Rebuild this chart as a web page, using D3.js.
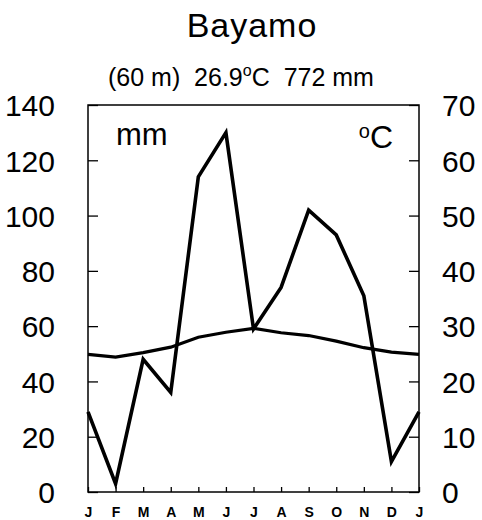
<!DOCTYPE html>
<html lang="en">
<head>
    <meta charset="UTF-8">
    <title>Bayamo</title>
    <script src="https://d3js.org/d3.v7.min.js"></script>
    <style>
        body {
            margin: 0;
            background: #fff;
        }
        svg {
            font-family: 'Liberation Sans', Arial, sans-serif;
        }
        .axis text {
            font-size: 30px;
            fill: #000;
        }
        .month text {
            font-size: 14px;
            font-weight: bold;
        }
        .axis line {
            stroke: #000;
            stroke-width: 1.3px;
        }
    </style>
</head>
<body>
<script>
    // monthly climate data for Bayamo
    const months = ["J", "F", "M", "A", "M", "J", "J", "A", "S", "O", "N", "D", "J"];
    const precip = [29, 3, 48, 36, 114, 130, 59, 74, 102, 93, 71, 11, 29];   // mm
    const temp = [24.9, 24.4, 25.2, 26.2, 28.0, 28.9, 29.6, 28.8, 28.3, 27.3, 26.1, 25.3, 24.9]; // °C
    const mmTicks = [0, 20, 40, 60, 80, 100, 120, 140];
    const cTicks = [0, 10, 20, 30, 40, 50, 60, 70];

    const W = 482, H = 520;
    const margin = { top: 105, right: 63, bottom: 28, left: 88 };
    const width = W - margin.left - margin.right;
    const height = H - margin.top - margin.bottom;

    const svg = d3.select("body").append("svg")
        .attr("width", W)
        .attr("height", H);

    const g = svg.append("g")
        .attr("transform", "translate(" + margin.left + "," + margin.top + ")");

    const x = d3.scaleLinear().domain([0, months.length - 1]).range([0, width]);
    const yP = d3.scaleLinear().domain([0, 140]).range([height, 0]);
    const yT = d3.scaleLinear().domain([0, 70]).range([height, 0]);

    // titles
    svg.append("text")
        .attr("x", 252).attr("y", 37)
        .attr("text-anchor", "middle")
        .style("font-size", "34px")
        .style("letter-spacing", "1px")
        .text("Bayamo");

    const sub = svg.append("text")
        .attr("x", 108).attr("y", 86)
        .style("font-size", "25px");
    sub.append("tspan").text("(60 m)\u00a0\u00a026.9");
    sub.append("tspan").attr("dy", -10).style("font-size", "16px").text("o");
    sub.append("tspan").attr("dy", 10).text("C\u00a0\u00a0772 mm");

    // axes
    g.append("g")
        .attr("class", "axis")
        .call(d3.axisLeft(yP).tickValues(mmTicks).tickSizeInner(-10).tickSizeOuter(0).tickPadding(33))
        .call(a => a.select(".domain").remove())
        .selectAll("text").attr("dy", "0.36em");

    g.append("g")
        .attr("class", "axis")
        .attr("transform", "translate(" + width + ",0)")
        .call(d3.axisRight(yT).tickValues(cTicks).tickSizeInner(-10).tickSizeOuter(0).tickPadding(23))
        .call(a => a.select(".domain").remove())
        .selectAll("text").attr("dy", "0.36em");

    g.append("g")
        .attr("class", "axis month")
        .attr("transform", "translate(0," + height + ")")
        .call(d3.axisBottom(x).tickValues(d3.range(months.length)).tickFormat(i => months[i])
            .tickSizeInner(-5).tickSizeOuter(0).tickPadding(15))
        .call(a => a.select(".domain").remove());

    // frame
    g.append("rect")
        .attr("width", width)
        .attr("height", height)
        .attr("fill", "none")
        .attr("stroke", "#000")
        .attr("stroke-width", 1.5);

    // unit labels
    g.append("text")
        .attr("x", 28).attr("y", 40)
        .style("font-size", "31px")
        .text("mm");

    const cLab = g.append("text")
        .attr("x", width - 26).attr("y", 43)
        .attr("text-anchor", "end")
        .style("font-size", "32px");
    cLab.append("tspan").attr("dy", -10).style("font-size", "20px").text("o");
    cLab.append("tspan").attr("dy", 10).text("C");

    // lines
    const lineP = d3.line().x((d, i) => x(i)).y(d => yP(d));
    const lineT = d3.line().x((d, i) => x(i)).y(d => yT(d));

    g.append("path")
        .datum(temp)
        .attr("d", lineT)
        .attr("fill", "none")
        .attr("stroke", "#000")
        .attr("stroke-width", 3.2);

    g.append("path")
        .datum(precip)
        .attr("d", lineP)
        .attr("fill", "none")
        .attr("stroke", "#000")
        .attr("stroke-width", 3.6)
        .attr("stroke-linejoin", "miter");
</script>
</body>
</html>
